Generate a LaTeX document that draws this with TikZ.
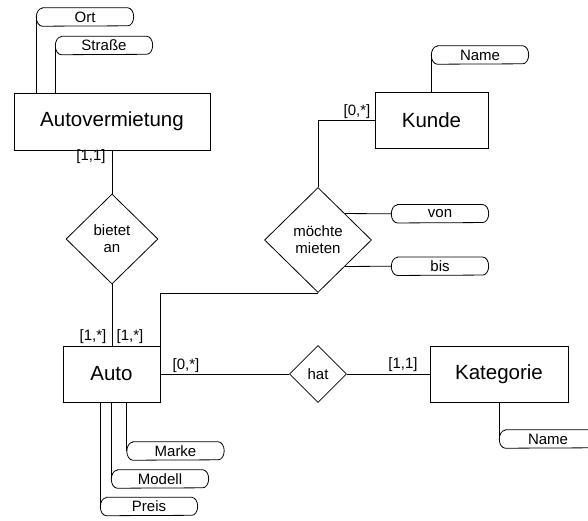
\documentclass[tikz,border=0pt]{standalone}
\usepackage{fontspec}
\setmainfont{Liberation Sans}
\usetikzlibrary{shapes.geometric}

% attribute: text node framed by a flat box with elliptical ends
\newcommand\attrbox[3]{%
  \node[attrtext] (#1) at (#2) {#3};
  \draw[edge] ([xshift=6pt]#1.north west) -- ([xshift=-6pt]#1.north east)
    arc[start angle=90,end angle=-90,x radius=6pt,y radius=9pt]
    -- ([xshift=6pt]#1.south west)
    arc[start angle=270,end angle=90,x radius=6pt,y radius=9pt] -- cycle;}

\tikzset{
  edge/.style={draw=black, line width=0.8pt},
  entity/.style={draw=black, line width=0.8pt, rectangle, inner sep=0pt,
    font=\fontsize{20.5}{24}\selectfont},
  relation/.style={draw=black, line width=0.8pt, diamond, inner sep=0pt,
    align=center, font=\fontsize{15}{17}\selectfont},
  attrtext/.style={inner sep=0pt, minimum width=97pt, minimum height=18pt,
    font=\fontsize{15}{18}\selectfont},
  card/.style={inner sep=0pt, font=\fontsize{15}{18}\selectfont},
}

\begin{document}
\begin{tikzpicture}[x=1pt,y=-1pt]
  \fill[white] (0,0) rectangle (588,520);
  \useasboundingbox (0,0) rectangle (588,520);

  % entities
  \node[entity, minimum width=196pt, minimum height=57pt] (av) at (112,121.5) {Autovermietung};
  \node[entity, minimum width=113pt, minimum height=56pt] (kunde) at (431.5,120) {Kunde};
  \node[entity, minimum width=97pt, minimum height=56pt] (auto) at (111.5,374) {Auto};
  \node[entity, minimum width=138pt, minimum height=56pt] (kat) at (499,374) {Kategorie};

  % relationships
  \node[relation, minimum width=92pt, minimum height=90pt] (bietet) at (112,239) {bietet\\an};
  \node[relation, minimum width=107pt, minimum height=105pt] (mieten) at (318,240) {möchte\\mieten};
  \node[relation, minimum width=57pt, minimum height=57pt] (hat) at (318,374) {hat};

  % attributes
  \attrbox{ort}{85,17}{Ort}
  \attrbox{strasse}{104,45.5}{Straße}
  \attrbox{kname}{480,55}{Name}
  \attrbox{von}{440,213.75}{von}
  \attrbox{bis}{440,266.25}{bis}
  \attrbox{katname}{548,439}{Name}
  \attrbox{marke}{175.5,451}{Marke}
  \attrbox{modell}{160,479}{Modell}
  \attrbox{preis}{149,506.5}{Preis}

  % attribute links
  \draw[edge] (ort.west) -- (ort.west |- av.north);
  \draw[edge] (strasse.west) -- (strasse.west |- av.north);
  \draw[edge] (kname.west) -- (kname.west |- kunde.north);
  \draw[edge] (mieten.north east) -- (von.west);
  \draw[edge] (mieten.south east) -- (bis.west);
  \draw[edge] (katname.west |- kat.south) -- (katname.west);
  \draw[edge] (marke.west |- auto.south) -- (marke.west);
  \draw[edge] (modell.west |- auto.south) -- (modell.west);
  \draw[edge] (preis.west |- auto.south) -- (preis.west);

  % relationship links
  \draw[edge] (av.south) -- (bietet.north);
  \draw[edge] (bietet.south) -- (bietet.south |- auto.north);
  \draw[edge] (kunde.west) -| (mieten.north);
  \draw[edge] (mieten.south) -| (auto.north east);
  \draw[edge] (auto.east) -- (hat.west);
  \draw[edge] (hat.east) -- (kat.west);

  % cardinalities
  \node[card] (c1) at (91,157) {[1,1]};
  \node[card] (c2) at (357,112) {[0,*]};
  \node[card] (c3) at (93,337) {[1,*]};
  \node[card] (c4) at (130,337) {[1,*]};
  \node[card] (c5) at (186,366) {[0,*]};
  \node[card] (c6) at (403,365) {[1,1]};
\end{tikzpicture}
\end{document}
